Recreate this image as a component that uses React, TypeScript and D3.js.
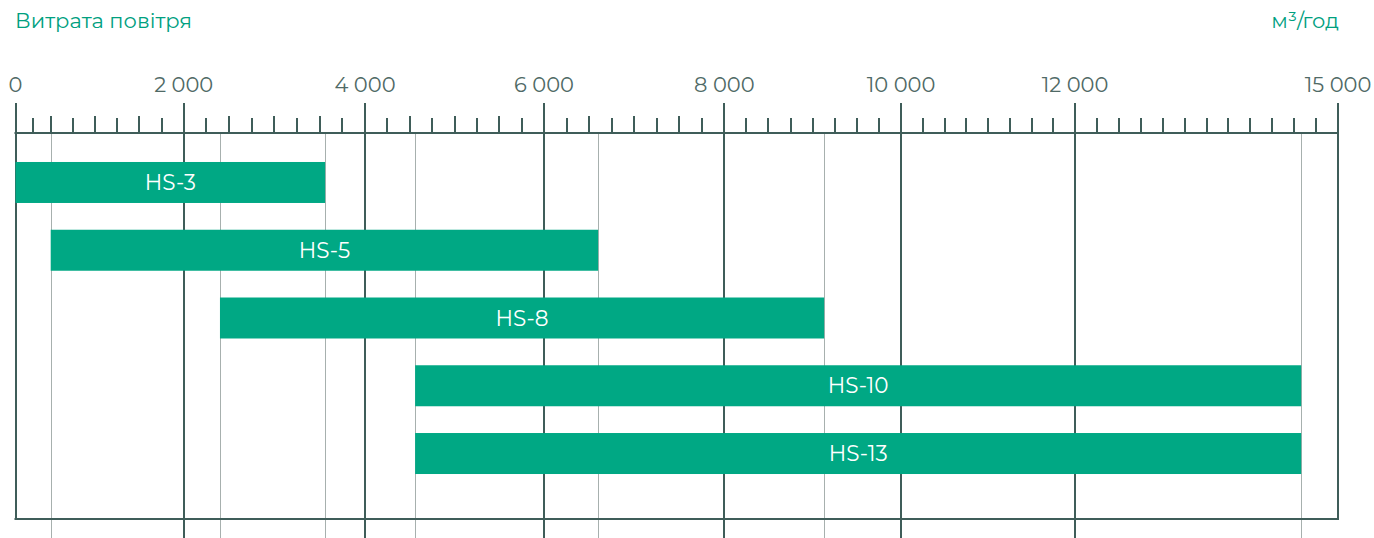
import React from "react";
import * as d3 from "d3";

const models = ["HS-3", "HS-5", "HS-8", "HS-10", "HS-13"];
const flowMin = [0, 500, 2400, 4560, 4560];
const flowMax = [3560, 6600, 9130, 14580, 14580];
const majorTicks = [0, 2000, 4000, 6000, 8000, 10000, 12000, 15000];
const majorLabels = ["0", "2 000", "4 000", "6 000", "8 000", "10 000", "12 000", "15 000"];
const minorStep = 250;
const titleLeft = "Витрата повітря";
const titleRight = "м³/год";

const W = 1374;
const H = 538;
const FONT = "Montserrat, 'Noto Sans', 'Open Sans', sans-serif";
const GREEN = "#00a884";
const DARK = "#3f5d59";
const LABEL = "#506a66";
const LIGHT = "#a7b0ae";

export default function App() {
  // piecewise-linear axis (the original drawing is not strictly linear)
  const x = d3
    .scaleLinear()
    .domain([0, 500, 2000, 4000, 6000, 8000, 10000, 12000, 15000])
    .range([15.5, 50.7, 183.7, 365, 544, 724.3, 901, 1075, 1338]);

  const y = d3
    .scaleBand<string>()
    .domain(models)
    .range([148.6, 487.4])
    .paddingInner(0.395)
    .paddingOuter(0.1975);

  const axisY = 133;
  const bottomY = 519;
  const x0 = x(0);
  const x1 = x(15000);

  const minor = d3.range(0, 15000 + 1, minorStep).filter((v) => !majorTicks.includes(v));
  const edges = Array.from(new Set([...flowMin, ...flowMax])).filter((v) => v !== 0 && v !== 15000);

  return (
    <svg width={W} height={H} style={{ position: "absolute", left: 0, top: 0 }} fontFamily={FONT}>
      <rect width={W} height={H} fill="#fff" />
      <text x={15} y={28} fontSize={21} fill="#00a07f">{titleLeft}</text>
      <text x={1339} y={28} fontSize={21} fill="#00a07f" textAnchor="end">{titleRight}</text>

      {/* thin gridlines at bar ends */}
      {edges.map((v) => (
        <line key={"e" + v} x1={Math.round(x(v)) + 0.5} x2={Math.round(x(v)) + 0.5} y1={axisY} y2={H}
          stroke={LIGHT} strokeWidth={1} />
      ))}

      {/* major gridlines/ticks */}
      {majorTicks.map((v) => {
        const isEdge = v === 0 || v === 15000;
        return (
          <line key={"m" + v} x1={Math.round(x(v))} x2={Math.round(x(v))} y1={103}
            y2={isEdge ? bottomY + 1 : H} stroke={DARK} strokeWidth={2} />
        );
      })}

      {/* minor ticks */}
      {minor.map((v) => {
        const tall = v < 8000 && v % 500 === 0;
        return (
          <line key={"n" + v} x1={Math.round(x(v))} x2={Math.round(x(v))} y1={tall ? 116 : 118}
            y2={axisY} stroke={DARK} strokeWidth={2} />
        );
      })}

      {/* frame */}
      <line x1={x0 - 1} x2={x1 + 1} y1={axisY} y2={axisY} stroke={DARK} strokeWidth={2} />
      <line x1={x0 - 1} x2={x1 + 1} y1={bottomY} y2={bottomY} stroke={DARK} strokeWidth={2} />

      {/* labels */}
      {majorTicks.map((v, i) => (
        <text key={"l" + v} x={x(v)} y={92} fontSize={21} fill={LABEL} textAnchor="middle">
          {majorLabels[i]}
        </text>
      ))}

      {/* bars */}
      {models.map((m, i) => {
        const bx = x(flowMin[i]);
        const bw = x(flowMax[i]) - bx;
        const by = y(m)!;
        const bh = y.bandwidth();
        return (
          <g key={m}>
            <rect x={bx} y={by} width={bw} height={bh} fill={GREEN} />
            <text x={bx + bw / 2} y={by + bh / 2} dy="0.35em" fontSize={21.5} fill="#fff" textAnchor="middle">
              {m}
            </text>
          </g>
        );
      })}
    </svg>
  );
}
